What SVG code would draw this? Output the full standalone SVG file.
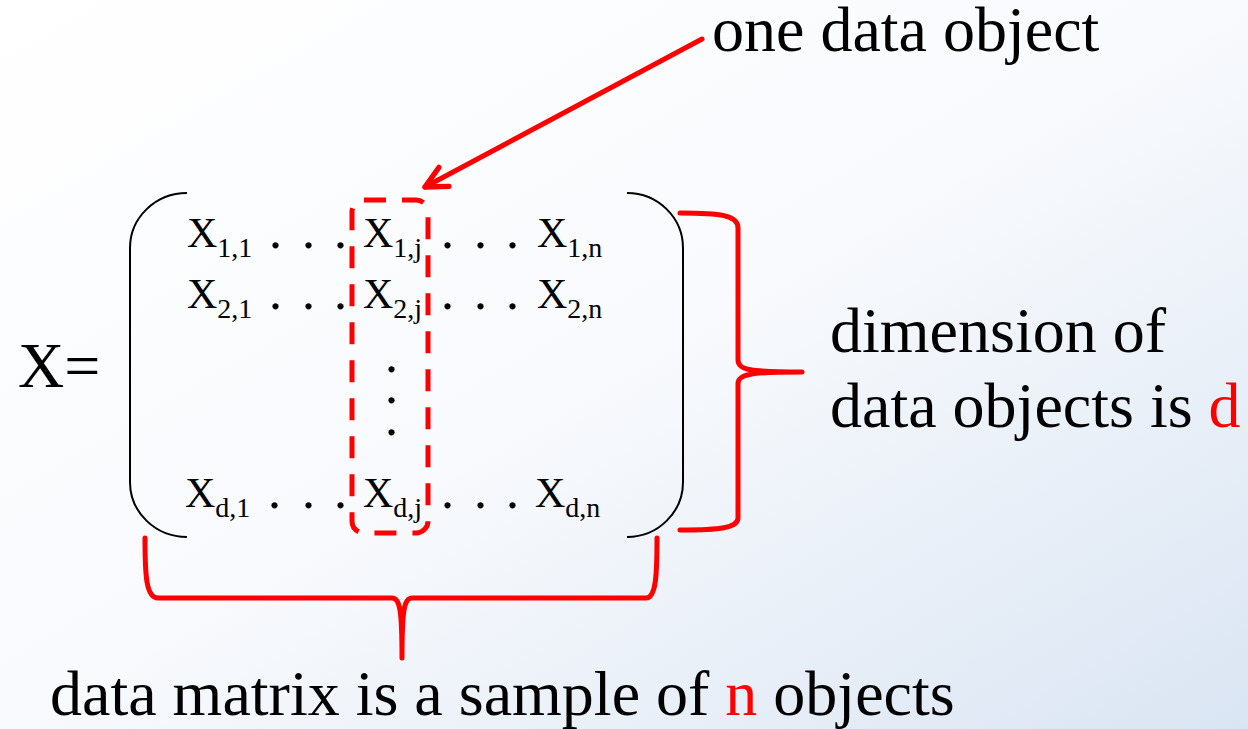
<svg xmlns="http://www.w3.org/2000/svg" width="1248" height="729" viewBox="0 0 1248 729">
  <defs>
    <linearGradient id="bg" x1="0" y1="0" x2="1" y2="1">
      <stop offset="0" stop-color="#FFFFFF"/>
      <stop offset="0.5" stop-color="#F8FAFD"/>
      <stop offset="1" stop-color="#DAE5F3"/>
    </linearGradient>
    <marker id="arrowhead" markerUnits="userSpaceOnUse" markerWidth="30" markerHeight="30" viewBox="-24 -14 28 28" refX="0" refY="0" orient="auto">
      <path d="M -20 -10 L 0 0 L -20 10" fill="none" stroke="#FF0000" stroke-width="5" stroke-linecap="round" stroke-linejoin="round"/>
    </marker>
    <style>
      .t { font-family: "Liberation Serif", "Times New Roman", serif; fill: #000; }
      .lbl { font-size: 64px; }
      .m { font-size: 42px; }
      .dots { font-size: 52px; }
      .sub { font-size: 28px; }
      .red { fill: #FF0000; }
      .paren { fill: none; stroke: #000; stroke-width: 2; }
      .brace { fill: none; stroke: #FF0000; stroke-width: 5; stroke-linecap: round; stroke-linejoin: round; }
    </style>
  </defs>
  <rect x="0" y="0" width="1248" height="729" fill="url(#bg)"/>

  <g id="lhs">
    <text class="t lbl" x="18" y="387">X=</text>
  </g>

  <g id="matrix">
    <path class="paren" d="M 187 193 A 57 55 0 0 0 130 248 L 130 482 A 57 55 0 0 0 187 537"/>
    <path class="paren" d="M 627 193 A 56 55 0 0 1 683 248 L 683 482 A 56 55 0 0 1 627 537"/>

    <text class="t m" x="187" y="247">X<tspan class="sub" dy="10">1,1</tspan></text>
    <text class="t dots" x="269 302 334" y="248">...</text>
    <text class="t m" x="363" y="247">X<tspan class="sub" dy="10">1,j</tspan></text>
    <text class="t dots" x="441 474 506" y="248">...</text>
    <text class="t m" x="537" y="247">X<tspan class="sub" dy="10">1,n</tspan></text>

    <text class="t m" x="187" y="308">X<tspan class="sub" dy="10">2,1</tspan></text>
    <text class="t dots" x="269 302 334" y="309">...</text>
    <text class="t m" x="363" y="308">X<tspan class="sub" dy="10">2,j</tspan></text>
    <text class="t dots" x="441 474 506" y="309">...</text>
    <text class="t m" x="537" y="308">X<tspan class="sub" dy="10">2,n</tspan></text>

    <text class="t dots" x="385 385 385" y="372 403 435">...</text>

    <text class="t m" x="185" y="507">X<tspan class="sub" dy="10">d,1</tspan></text>
    <text class="t dots" x="268 302 334" y="508">...</text>
    <text class="t m" x="363" y="507">X<tspan class="sub" dy="10">d,j</tspan></text>
    <text class="t dots" x="441 474 506" y="508">...</text>
    <text class="t m" x="535" y="507">X<tspan class="sub" dy="10">d,n</tspan></text>
  </g>

  <g id="data-object-box">
    <rect x="352" y="200" width="76" height="333" rx="12" ry="12" fill="none" stroke="#FF0000" stroke-width="5" stroke-dasharray="22 16"/>
  </g>

  <g id="connectors">
    <line x1="702" y1="39" x2="425" y2="187" stroke="#FF0000" stroke-width="5" stroke-linecap="round" marker-end="url(#arrowhead)"/>
    <path class="brace" d="M 680 213 C 720 213 738 215 738 228 L 738 360 C 738 370 750 372 802 372 C 750 372 738 374 738 384 L 738 518 C 738 528 720 530 680 530"/>
    <path class="brace" d="M 145 538 C 145 575 146 598 158 598 L 392 598 C 400 598 402 610 402 658 C 402 610 404 598 412 598 L 646 598 C 656 598 657 575 657 538"/>
  </g>

  <g id="label-one-data-object">
    <text class="t lbl" x="712" y="51">one data object</text>
  </g>
  <g id="label-dimension">
    <text class="t lbl" x="830" y="352">dimension of</text>
    <text class="t lbl" x="830" y="427">data objects is <tspan class="red">d</tspan></text>
  </g>
  <g id="label-sample">
    <text class="t lbl" x="50" y="715">data matrix is a sample of <tspan class="red">n</tspan> objects</text>
  </g>
</svg>
